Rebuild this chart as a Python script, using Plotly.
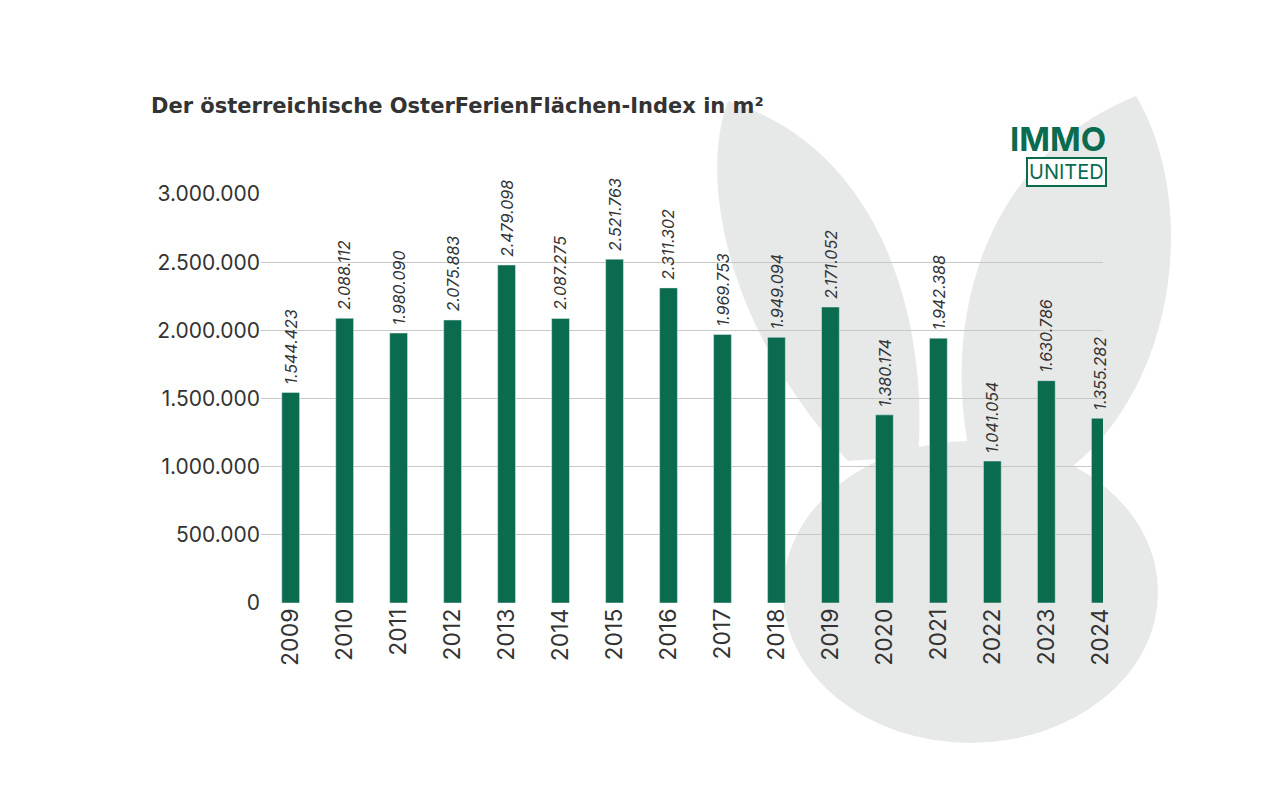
import plotly.graph_objects as go

years = list(range(2009, 2025))
values = [1544423, 2088112, 1980090, 2075883, 2479098, 2087275, 2521763, 2311302,
          1969753, 1949094, 2171052, 1380174, 1942388, 1041054, 1630786, 1355282]
labels = [f"{v:,}".replace(",", ".") for v in values]
tick_vals = [0, 500000, 1000000, 1500000, 2000000, 2500000, 3000000]
tick_text = ["0", "500.000", "1.000.000", "1.500.000", "2.000.000", "2.500.000", "3.000.000"]

green = "#0b6b4f"
bg_grey = "#e6e9e7"
FONT = "Inter"

L, R, T, B = 253, 185, 186, 197
PW, PH = 1280 - L - R, 792 - T - B


def pp(x, y):
    # pixel position in the reference -> paper coords (decorative items only)
    return (x - L) / PW, (602 - y) / PH


def px(x, y):
    a, b = pp(x, y)
    return f"{a:.4f} {b:.4f}"


fig = go.Figure(go.Bar(x=years, y=values, width=0.33, marker_color=green))

for yr, v, t in zip(years, values, labels):
    fig.add_annotation(x=yr, y=v, text=t, textangle=-90, yanchor="bottom", yshift=6,
                       showarrow=False,
                       font=dict(family=FONT, size=16, color="#333", style="italic"))

# light background bunny silhouette (decorative)
ear1 = (f"M {px(910, 455)} C {px(920, 330)}, {px(880, 150)}, {px(720, 100)} "
        f"C {px(690, 180)}, {px(720, 330)}, {px(840, 460)} Z")
ear2 = (f"M {px(962, 455)} C {px(930, 300)}, {px(990, 150)}, {px(1128, 95)} "
        f"C {px(1190, 200)}, {px(1170, 380)}, {px(1065, 465)} Z")
for p in (ear1, ear2):
    fig.add_shape(type="path", xref="paper", yref="paper", layer="below",
                  path=p, fillcolor=bg_grey, line_width=0)
x0, y0 = pp(775, 440)
x1, y1 = pp(1150, 742)
fig.add_shape(type="circle", xref="paper", yref="paper", layer="below",
              x0=x0, x1=x1, y0=y1, y1=y0, fillcolor=bg_grey, line_width=0)

tx, ty = pp(141, 105)
fig.add_annotation(text="<b>Der österreichische OsterFerienFlächen-Index in m²</b>",
                   xref="paper", yref="paper", x=tx, y=ty, xanchor="left", yanchor="middle",
                   showarrow=False, font=dict(family="DejaVu Sans", size=21, color="#333"))
ix, iy = pp(1100, 138)
fig.add_annotation(text="<b>IMMO</b>", xref="paper", yref="paper", x=ix, y=iy,
                   xanchor="right", yanchor="middle", showarrow=False,
                   font=dict(size=33, color=green))
ux, uy = pp(1099, 171)
fig.add_annotation(text="UNITED", xref="paper", yref="paper", x=ux, y=uy,
                   xanchor="right", yanchor="middle", showarrow=False,
                   font=dict(size=20, color=green),
                   bordercolor=green, borderwidth=2, borderpad=1, bgcolor="white")

fig.update_layout(
    width=1280, height=792, plot_bgcolor="rgba(0,0,0,0)", paper_bgcolor="white",
    margin=dict(l=L, r=R, t=T, b=B),
    font=dict(family=FONT, color="#333"),
    showlegend=False,
    xaxis=dict(range=[2008.45, 2024.05], tickvals=years, ticktext=[str(y) for y in years],
               tickangle=-90, tickfont=dict(size=23), showgrid=False, zeroline=False,
               showline=False),
    yaxis=dict(range=[0, 3000000], tickvals=tick_vals, ticktext=tick_text,
               tickfont=dict(size=21), gridcolor="#c8c8c8", zeroline=False, ticks=""),
)

fig.write_html("out.html")
